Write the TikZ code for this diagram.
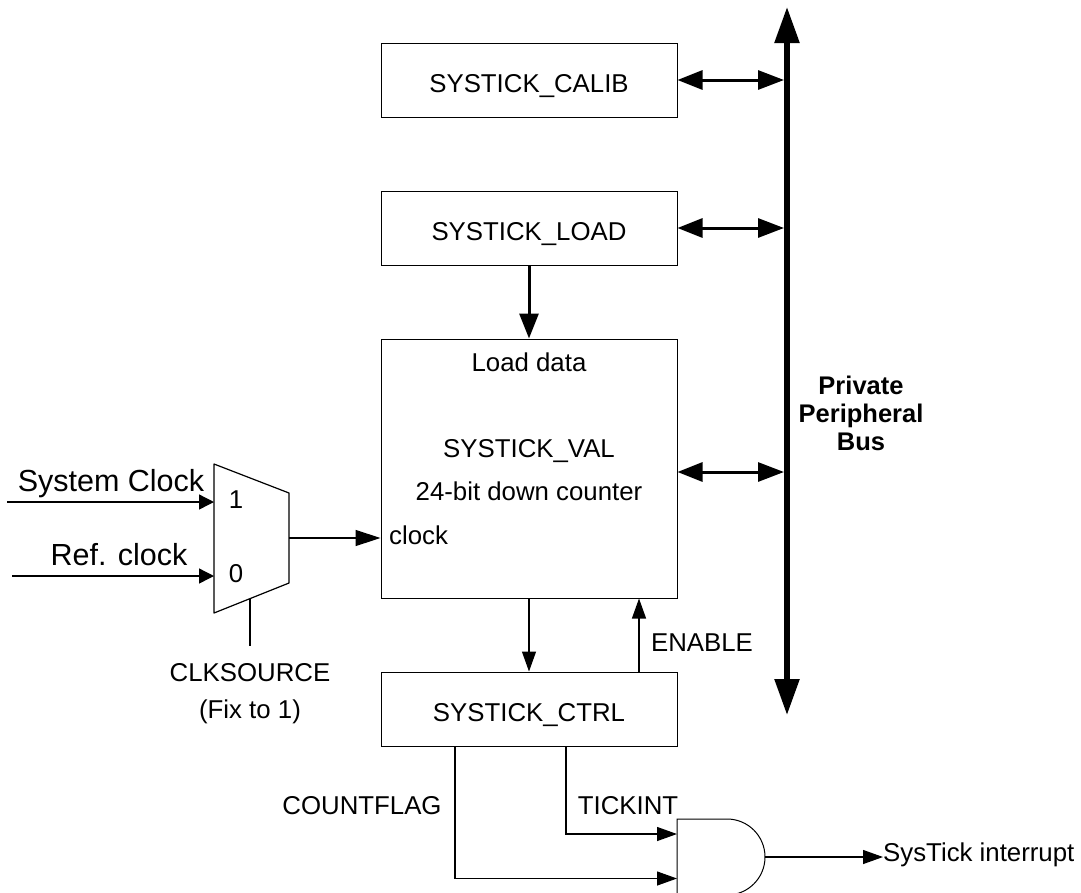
\documentclass[tikz,border=0pt]{standalone}
\usepackage{fontspec}
\setmainfont{Liberation Sans}
\usetikzlibrary{arrows.meta}

\tikzset{
  reg/.style={shape=rectangle, draw, line width=1pt, minimum width=296pt, minimum height=74pt, inner sep=0pt},
  txt/.style={font=\fontsize{25.8}{30}\selectfont, inner sep=0pt},
  bigtxt/.style={font=\fontsize{30.5}{34}\selectfont, inner sep=0pt},
  thin arrow/.style={line width=1.2pt, -{Triangle[length=20pt, width=14pt]}},
  small arrow/.style={line width=1.4pt, -{Triangle[length=15pt, width=15pt]}},
  data arrow/.style={line width=3pt, {Triangle[length=25pt, width=19pt]}-{Triangle[length=26pt, width=19pt]}}
}

\begin{document}
\begin{tikzpicture}[x=1pt, y=-1pt]
  \useasboundingbox (0,0) rectangle (1081,892);
  \clip (0,0) rectangle (1081,892);

  \node[reg] (calib) at (529,80) {};
  \node[txt] (calibtxt) at (529,86) {SYSTICK\_CALIB};
  \node[reg] (load) at (529,228) {};
  \node[txt] (loadtxt) at (529,234) {SYSTICK\_LOAD};
  \node[reg, minimum height=259pt] (val) at (529,468.5) {};
  \node[txt] (valtop) at (529,362) {Load data};
  \node[txt] (valname) at (529,451) {SYSTICK\_VAL};
  \node[txt] (valdesc) at (529,491) {24-bit down counter};
  \node[txt, anchor=west] (valclk) at (389,535) {clock};
  \node[reg] (ctrl) at (529,709) {};
  \node[txt] (ctrltxt) at (529,715) {SYSTICK\_CTRL};

  % bus
  \coordinate (bustop) at (787,7);
  \coordinate (busbot) at (787,715);
  \draw[line width=5.5pt, {Triangle[length=36pt, width=24pt]}-{Triangle[length=36pt, width=24pt]}] (bustop) -- (busbot);
  \node[align=center, font=\fontsize{25.5}{28}\selectfont\bfseries, inner sep=0pt] (busname) at (861,413) {Private\\Peripheral\\Bus};
  \draw[data arrow, shorten >=3pt] (calib.east) -- (calib.east -| bustop);
  \draw[data arrow, shorten >=3pt] (load.east) -- (load.east -| bustop);
  \coordinate (valbus) at (val.east |- 0,472);
  \draw[data arrow, shorten >=3pt] (valbus) -- (valbus -| bustop);

  \draw[line width=3pt, -{Triangle[length=25pt, width=19pt]}] (load) -- (val);
  \draw[thin arrow] (val) -- (ctrl);
  \coordinate (enfoot) at (639,672);
  \draw[thin arrow] (enfoot) -- (enfoot |- val.south);
  \node[txt] (enable) at (702,642.5) {ENABLE};

  % clock mux
  \coordinate (muxa) at (214,464);
  \coordinate (muxb) at (289,493);
  \coordinate (muxc) at (289,583);
  \coordinate (muxd) at (214,613);
  \draw[line width=1.2pt, line join=round] (muxa) -- (muxb) -- (muxc) -- (muxd) -- cycle;
  \node[txt] (one) at (236,500) {1};
  \node[txt] (zero) at (236,574) {0};
  \coordinate (sysin) at (7,502);
  \coordinate (refin) at (12,576);
  \coordinate (muxout) at (289,538);
  \coordinate (muxsel) at (250,599);
  \coordinate (selend) at (250,646);
  \draw[small arrow] (sysin) -- (sysin -| muxa);
  \draw[small arrow] (refin) -- (refin -| muxa);
  \draw[line width=1.4pt, -{Triangle[length=25pt, width=16pt]}] (muxout) -- (muxout -| val.west);
  \draw[line width=1.4pt] (muxsel) -- (selend);
  \node[bigtxt] (sysclk) at (111,484) {System Clock};
  \node[bigtxt] (refclk) at (119,555) {Ref. clock};
  \node[txt] (clksrc) at (250,672.5) {CLKSOURCE};
  \node[txt] (fixone) at (250,712) {(Fix to 1)};

  % and gate
  \coordinate (andtop) at (677,819);
  \coordinate (andout) at (765,857);
  \coordinate (andbot) at (677,895);
  \coordinate (cflagin) at (677,878.5);
  \coordinate (tickin) at (677,834);
  \draw[line width=1pt] (andtop) -- ++(50,0) arc[start angle=-90, end angle=90, radius=38] -- (andbot) -- cycle;
  \draw[thin arrow] (ctrl.south -| 566,0) -- (566,834) -- (tickin);
  \draw[thin arrow] (ctrl.south -| 455,0) -- (455,878.5) -- (cflagin);
  \node[txt] (cflag) at (362,805.5) {COUNTFLAG};
  \node[txt] (tickint) at (628,805.5) {TICKINT};
  \node[txt, anchor=west] (systick) at (883,855) {SysTick interrupt};
  \draw[thin arrow] (andout) -- (systick.west |- andout);
\end{tikzpicture}
\end{document}
